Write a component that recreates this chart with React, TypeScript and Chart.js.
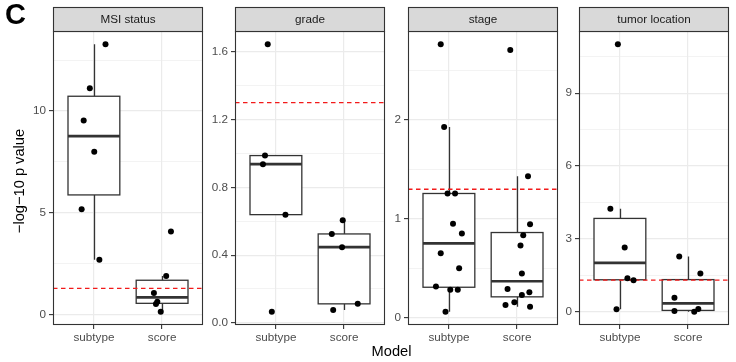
import React, { useEffect, useRef } from "react";
import { Chart, registerables } from "chart.js";

Chart.register(...registerables);

// ---------- data ----------
const facets = ["MSI status", "grade", "stage", "tumor location"];
const categories = ["subtype", "score"];
const threshold = 1.30103; // -log10(0.05)

const msiSubtype = [13.27, 11.12, 9.54, 8.0, 5.18, 2.7];
const msiSubtypeJitter = [0.17, -0.06, -0.15, 0.005, -0.18, 0.08];
const msiScore = [4.09, 1.91, 1.07, 0.65, 0.54, 0.16];
const msiScoreJitter = [0.13, 0.06, -0.12, -0.07, -0.09, -0.02];

const gradeSubtype = [1.645, 0.988, 0.937, 0.639, 0.066];
const gradeSubtypeJitter = [-0.12, -0.16, -0.19, 0.14, -0.06];
const gradeScore = [0.606, 0.525, 0.447, 0.112, 0.075];
const gradeScoreJitter = [-0.02, -0.18, -0.03, 0.2, -0.16];

const stageSubtype = [2.765, 1.93, 1.258, 1.258, 0.953, 0.853, 0.654, 0.503, 0.319, 0.285, 0.285, 0.064];
const stageSubtypeJitter = [-0.12, -0.07, -0.02, 0.09, 0.06, 0.19, -0.12, 0.15, -0.19, 0.02, 0.13, -0.05];
const stageScore = [2.708, 1.433, 0.946, 0.836, 0.732, 0.45, 0.292, 0.259, 0.232, 0.158, 0.131, 0.114];
const stageScoreJitter = [-0.1, 0.16, 0.19, 0.09, 0.05, 0.07, -0.14, 0.18, 0.07, -0.04, -0.17, 0.19];

const tumorSubtype = [11.01, 4.24, 2.64, 1.38, 1.29, 0.1];
const tumorSubtypeJitter = [-0.03, -0.14, 0.07, 0.11, 0.2, -0.05];
const tumorScore = [2.27, 1.57, 0.57, 0.03, 0.11, 0.0];
const tumorScoreJitter = [-0.13, 0.18, -0.2, -0.2, 0.15, 0.09];

const msiTicks = [0, 5, 10];
const msiMinorTicks = [2.5, 7.5, 12.5];
const gradeTicks = [0, 0.4, 0.8, 1.2, 1.6];
const gradeMinorTicks = [0.2, 0.6, 1.0, 1.4];
const stageTicks = [0, 1, 2];
const stageMinorTicks = [0.5, 1.5, 2.5];
const tumorTicks = [0, 3, 6, 9];
const tumorMinorTicks = [1.5, 4.5, 7.5, 10.5];

const panels = [
  { title: facets[0], groups: [msiSubtype, msiScore], jitter: [msiSubtypeJitter, msiScoreJitter], ticks: msiTicks, minor: msiMinorTicks, decimals: 0 },
  { title: facets[1], groups: [gradeSubtype, gradeScore], jitter: [gradeSubtypeJitter, gradeScoreJitter], ticks: gradeTicks, minor: gradeMinorTicks, decimals: 1 },
  { title: facets[2], groups: [stageSubtype, stageScore], jitter: [stageSubtypeJitter, stageScoreJitter], ticks: stageTicks, minor: stageMinorTicks, decimals: 0 },
  { title: facets[3], groups: [tumorSubtype, tumorScore], jitter: [tumorSubtypeJitter, tumorScoreJitter], ticks: tumorTicks, minor: tumorMinorTicks, decimals: 0 },
];

// ---------- layout ----------
const W = 736;
const H = 362;
const PANEL_LEFTS = [53, 235, 408, 579];
const PANEL_W = 150;
const AXIS_W = 34;
const RIGHT_PAD = 4;
const PANEL_TOP = 31;
const PANEL_BOTTOM = 325;
const STRIP_H = 24;
const BOX_W = 0.76;
const FONT = '"Liberation Sans", Arial, Helvetica, sans-serif';

function q7(sorted: number[], p: number) {
  const h = (sorted.length - 1) * p;
  const lo = Math.floor(h);
  const hi = Math.ceil(h);
  return sorted[lo] + (h - lo) * (sorted[hi] - sorted[lo]);
}

function boxStats(values: number[]) {
  const s = [...values].sort((a, b) => a - b);
  const q1 = q7(s, 0.25);
  const med = q7(s, 0.5);
  const q3 = q7(s, 0.75);
  const iqr = q3 - q1;
  const lo = Math.min(...s.filter((v) => v >= q1 - 1.5 * iqr));
  const hi = Math.max(...s.filter((v) => v <= q3 + 1.5 * iqr));
  return { q1, med, q3, lo, hi };
}

function Panel({ index }: { index: number }) {
  const ref = useRef<HTMLCanvasElement | null>(null);
  const p = panels[index];
  const cw = AXIS_W + PANEL_W + RIGHT_PAD;
  const left = PANEL_LEFTS[index] - AXIS_W;

  useEffect(() => {
    if (!ref.current) return;
    const all = [...p.groups[0], ...p.groups[1], threshold];
    const dmin = Math.min(...all);
    const dmax = Math.max(...all);
    const pad = (dmax - dmin) * 0.05;
    const isMajor = (v: number) => p.ticks.includes(v);

    const pointData = p.groups.map((g, gi) =>
      g.map((v, i) => ({ x: gi + 1 + p.jitter[gi][i], y: v }))
    );

    const decor = {
      id: "facetDecor" + index,
      beforeDatasetsDraw(chart: any) {
        const { ctx, scales } = chart;
        const xs = scales.x;
        const ys = scales.y;
        ctx.save();
        p.groups.forEach((vals, gi) => {
          const st = boxStats(vals);
          const cx = Math.round(xs.getPixelForValue(gi + 1)) + 0.5;
          const x0 = xs.getPixelForValue(gi + 1 - BOX_W / 2);
          const x1 = xs.getPixelForValue(gi + 1 + BOX_W / 2);
          const yq1 = ys.getPixelForValue(st.q1);
          const yq3 = ys.getPixelForValue(st.q3);
          const ym = ys.getPixelForValue(st.med);
          const ylo = ys.getPixelForValue(st.lo);
          const yhi = ys.getPixelForValue(st.hi);
          ctx.strokeStyle = "#333333";
          ctx.lineWidth = 1.3;
          ctx.beginPath();
          ctx.moveTo(cx, yq3);
          ctx.lineTo(cx, yhi);
          ctx.moveTo(cx, yq1);
          ctx.lineTo(cx, ylo);
          ctx.stroke();
          ctx.fillStyle = "#ffffff";
          ctx.fillRect(x0, yq3, x1 - x0, yq1 - yq3);
          ctx.strokeRect(x0, yq3, x1 - x0, yq1 - yq3);
          ctx.lineWidth = 2.7;
          ctx.beginPath();
          ctx.moveTo(x0, ym);
          ctx.lineTo(x1, ym);
          ctx.stroke();
        });
        ctx.restore();
      },
      afterDraw(chart: any) {
        const { ctx, chartArea } = chart;
        const l = Math.round(chartArea.left) + 0.5;
        const r = Math.round(chartArea.right) - 0.5;
        const t = Math.round(chartArea.top) + 0.5;
        const b = Math.round(chartArea.bottom) - 0.5;
        ctx.save();
        ctx.strokeStyle = "#333333";
        ctx.lineWidth = 1.1;
        ctx.strokeRect(l, t, r - l, b - t);
        // strip
        const st = t - STRIP_H;
        ctx.fillStyle = "#D9D9D9";
        ctx.fillRect(l, st, r - l, STRIP_H);
        ctx.strokeRect(l, st, r - l, STRIP_H);
        ctx.fillStyle = "#1A1A1A";
        ctx.font = `11.7px ${FONT}`;
        ctx.textAlign = "center";
        ctx.textBaseline = "middle";
        ctx.fillText(p.title, (l + r) / 2, st + STRIP_H / 2 + 0.5);
        ctx.restore();
      },
    };

    const chart = new Chart(ref.current, {
      type: "scatter",
      data: {
        datasets: [
          ...pointData.map((d) => ({
            type: "scatter" as const,
            data: d,
            pointRadius: 3,
            pointHoverRadius: 3,
            backgroundColor: "#000000",
            borderWidth: 0,
          })),
          {
            type: "line" as const,
            data: [
              { x: 0.4, y: threshold },
              { x: 2.6, y: threshold },
            ],
            borderColor: "#F21A1A",
            borderWidth: 1.3,
            borderDash: [4.5, 3.5],
            pointRadius: 0,
            showLine: true,
            fill: false,
          },
        ],
      },
      options: {
        responsive: false,
        animation: false,
        events: [],
        layout: { padding: { left: 0, right: RIGHT_PAD, top: PANEL_TOP, bottom: 0 } },
        plugins: { legend: { display: false }, tooltip: { enabled: false }, title: { display: false } },
        scales: {
          x: {
            type: "linear",
            min: 0.4,
            max: 2.6,
            afterBuildTicks: (s: any) => {
              s.ticks = categories.map((_, i) => ({ value: i + 1 }));
            },
            afterFit: (s: any) => {
              s.height = H - PANEL_BOTTOM;
            },
            ticks: {
              autoSkip: false,
              maxRotation: 0,
              padding: 2,
              color: "#4D4D4D",
              font: { family: FONT, size: 11.7 },
              callback: (v: any) => categories[Number(v) - 1] ?? "",
            },
            grid: {
              color: "#EBEBEB",
              lineWidth: 1.2,
              tickLength: 4,
              tickColor: "#333333",
              tickWidth: 1.1,
            },
            border: { display: false },
          },
          y: {
            type: "linear",
            min: dmin - pad,
            max: dmax + pad,
            afterBuildTicks: (s: any) => {
              s.ticks = [...p.ticks, ...p.minor].sort((a, b) => a - b).map((v) => ({ value: v }));
            },
            afterFit: (s: any) => {
              s.width = AXIS_W;
            },
            ticks: {
              autoSkip: false,
              padding: 3,
              color: "#4D4D4D",
              font: { family: FONT, size: 11.7 },
              callback: (v: any) => (isMajor(Number(v)) ? Number(v).toFixed(p.decimals) : ""),
            },
            grid: {
              color: "#EBEBEB",
              lineWidth: (c: any) => (c.tick && isMajor(c.tick.value) ? 1.2 : 0.6),
              tickLength: 4,
              tickColor: (c: any) => (c.tick && isMajor(c.tick.value) ? "#333333" : "rgba(0,0,0,0)"),
              tickWidth: 1.1,
            },
            border: { display: false },
          },
        },
      },
      plugins: [decor],
    } as any);
    return () => chart.destroy();
  }, [index]);

  return (
    <canvas
      ref={ref}
      width={cw}
      height={H}
      style={{ position: "absolute", left, top: 0, width: cw, height: H }}
    />
  );
}

export default function App() {
  return (
    <div
      style={{
        position: "fixed",
        left: 0,
        top: 0,
        width: W,
        height: H,
        background: "#ffffff",
        overflow: "hidden",
        fontFamily: FONT,
      }}
    >
      {panels.map((_, i) => (
        <Panel key={i} index={i} />
      ))}
      <div
        style={{
          position: "absolute",
          left: 5,
          top: 0,
          fontSize: 29,
          lineHeight: "28px",
          fontWeight: "bold",
          color: "#000",
        }}
      >
        C
      </div>
      <div
        style={{
          position: "absolute",
          left: 19,
          top: 181,
          transform: "translate(-50%, -50%) rotate(-90deg)",
          whiteSpace: "nowrap",
          fontSize: 14.67,
          lineHeight: "17px",
          color: "#000",
        }}
      >
        −log−10 p value
      </div>
      <div
        style={{
          position: "absolute",
          left: 391.5,
          top: 343.5,
          transform: "translateX(-50%)",
          whiteSpace: "nowrap",
          fontSize: 14.67,
          lineHeight: "14.67px",
          color: "#000",
        }}
      >
        Model
      </div>
    </div>
  );
}
